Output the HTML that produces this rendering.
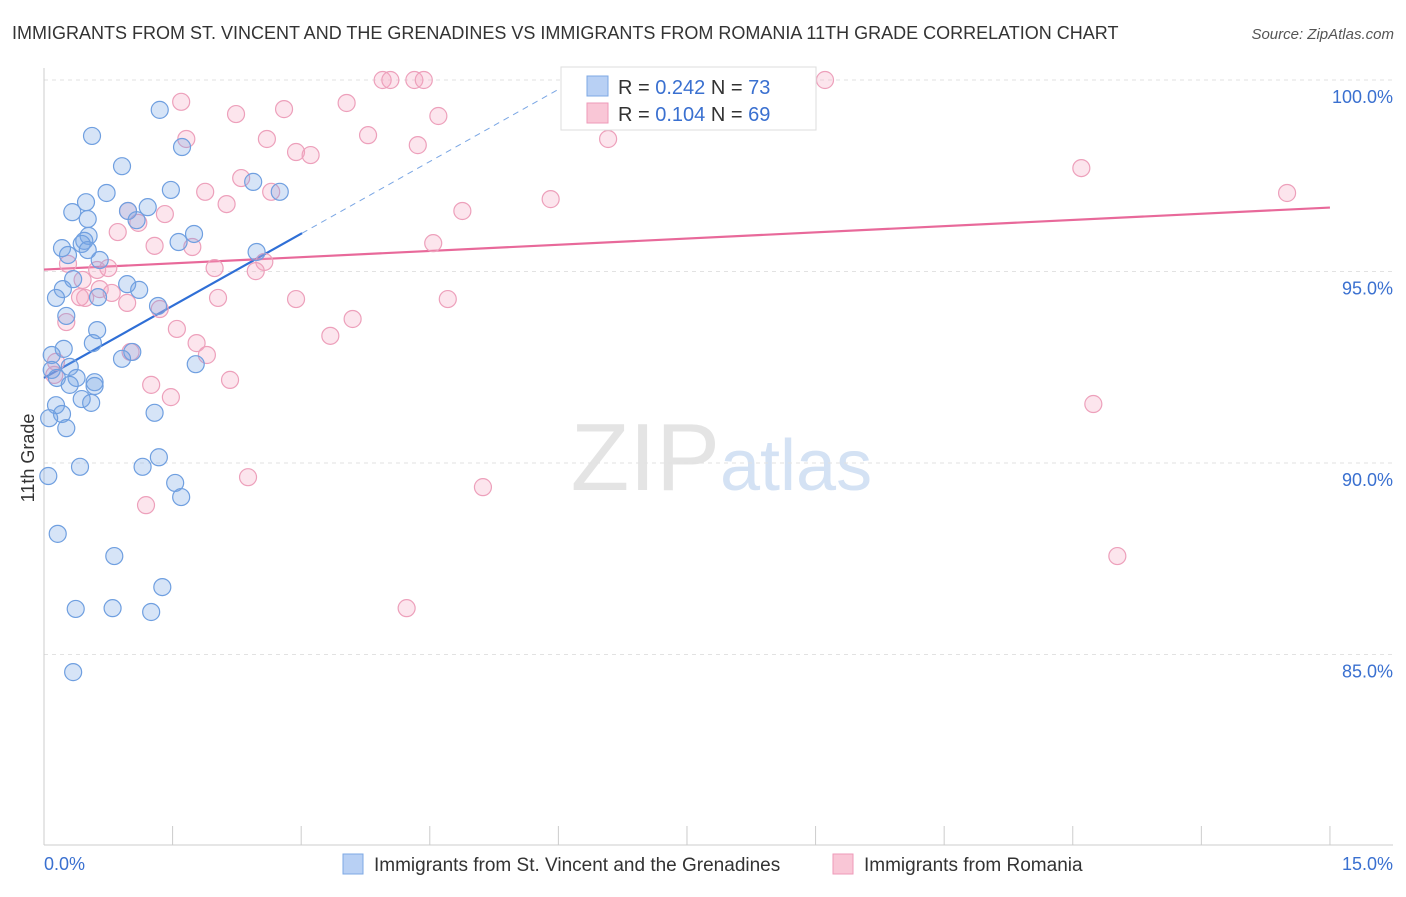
<!DOCTYPE html>
<html><head><meta charset="utf-8"><style>
body{margin:0;background:#fff;font-family:"Liberation Sans",sans-serif;}
svg text{font-family:"Liberation Sans",sans-serif;}
</style></head><body>
<svg id="chart" width="1406" height="892" xmlns="http://www.w3.org/2000/svg">
<text x="12" y="39" font-size="18" fill="#333">IMMIGRANTS FROM ST. VINCENT AND THE GRENADINES VS IMMIGRANTS FROM ROMANIA 11TH GRADE CORRELATION CHART</text>
<text x="1394" y="39" font-size="15" fill="#555" text-anchor="end" font-style="italic">Source: ZipAtlas.com</text>
<text x="720" y="490" font-size="96" fill="#e4e4e4" text-anchor="end" font-family="Liberation Serif">ZIP</text>
<text x="720" y="490" font-size="72" fill="#d4e2f4">atlas</text>
<text transform="translate(34,458) rotate(-90)" font-size="18" fill="#333" text-anchor="middle">11th Grade</text>
<g id="grid"></g><g id="axes"></g><g id="trends"></g><g id="pts"></g>
<g>
<rect x="561" y="67" width="255" height="63" fill="#fff" stroke="#ddd"/>
<rect x="587" y="76" width="21" height="20" fill="#b8d0f4" stroke="#7ea8e4"/>
<rect x="587" y="103" width="21" height="20" fill="#f9c6d6" stroke="#ee9ab8"/>
<text x="618" y="94" font-size="20" fill="#333">R = <tspan fill="#3a70d0">0.242</tspan>   N = <tspan fill="#3a70d0">73</tspan></text>
<text x="618" y="121" font-size="20" fill="#333">R = <tspan fill="#3a70d0">0.104</tspan>   N = <tspan fill="#3a70d0">69</tspan></text>
</g>
<g>
<rect x="343" y="854" width="20" height="20" fill="#b8d0f4" stroke="#7ea8e4"/>
<text x="374" y="871" font-size="19" fill="#333">Immigrants from St. Vincent and the Grenadines</text>
<rect x="833" y="854" width="20" height="20" fill="#f9c6d6" stroke="#ee9ab8"/>
<text x="864" y="871" font-size="19" fill="#333">Immigrants from Romania</text>
</g>
</svg>
<script>
const yTicks=[100,95,90,85];
const yTickLabels=["100.0%","95.0%","90.0%","85.0%"];
const xEndLabels=["0.0%","15.0%"];
const blueX=[1.35,0.56,1.61,0.91,2.44,0.73,1.48,2.75,0.49,0.33,1.21,0.98,1.08,0.51,0.52,0.47,1.75,1.57,0.21,0.44,0.51,2.48,0.28,0.65,0.34,0.22,0.97,1.11,0.14,0.63,1.33,0.26,0.62,0.57,0.23,1.03,0.09,0.91,1.77,0.30,0.09,0.15,0.38,0.59,0.59,0.30,0.44,0.55,0.14,0.21,0.06,1.29,0.26,1.34,0.42,1.15,0.05,1.53,1.60,0.16,0.82,1.38,0.37,0.80,1.25,0.34];
const blueY=[99.22,98.54,98.25,97.75,97.34,97.05,97.13,97.08,96.81,96.55,96.68,96.58,96.34,96.37,95.93,95.80,95.98,95.77,95.61,95.72,95.56,95.51,95.43,95.30,94.80,94.54,94.67,94.52,94.31,94.33,94.10,93.84,93.47,93.13,92.98,92.90,92.82,92.72,92.58,92.51,92.43,92.22,92.22,92.11,92.01,92.04,91.67,91.57,91.51,91.28,91.17,91.31,90.91,90.15,89.90,89.90,89.66,89.48,89.11,88.15,87.57,86.76,86.19,86.21,86.11,84.54];
const pinkX=[6.37,9.11,3.95,4.04,4.32,4.43,1.60,3.53,2.24,2.80,4.60,1.66,2.60,3.78,6.58,4.36,2.94,3.11,12.10,14.50,2.30,2.65,1.88,2.13,5.91,4.88,0.98,1.41,1.10,0.86,4.54,1.29,1.73,2.57,1.99,2.47,0.28,0.62,0.75,0.45,0.65,0.79,0.48,0.42,2.03,2.94,4.71,0.97,1.35,0.26,3.60,1.55,3.34,1.78,1.01,1.90,0.14,0.12,2.17,1.25,1.48,12.24,2.38,5.12,1.19,12.52,4.23];
const pinkY=[100,100,100,100,100,100,99.43,99.40,99.11,99.24,99.06,98.46,98.46,98.56,98.46,98.30,98.12,98.04,97.70,97.05,97.44,97.08,97.08,96.76,96.89,96.58,96.58,96.50,96.27,96.03,95.74,95.67,95.64,95.25,95.09,95.01,95.20,95.04,95.09,94.78,94.54,94.44,94.31,94.33,94.31,94.28,94.28,94.18,94.02,93.68,93.76,93.50,93.32,93.13,92.90,92.82,92.64,92.30,92.17,92.04,91.72,91.54,89.63,89.37,88.90,87.57,86.21];
const blueTrend=[92.22,96.0];const blueTrendX=[0,3.01];const blueDashEndX=6.2;
const pinkTrend=[95.05,96.67];
const NS="http://www.w3.org/2000/svg";
const sx=v=>44+v*85.73, sy=v=>80+(100-v)*38.3;
function mk(tag,attrs,parent){const e=document.createElementNS(NS,tag);for(const k in attrs)e.setAttribute(k,attrs[k]);document.getElementById(parent).appendChild(e);return e;}
yTicks.forEach((t,i)=>{
 const l=mk('line',{x1:44,x2:1393,y1:sy(t),y2:sy(t),stroke:'#e2e2e2','stroke-dasharray':'4,4'},'grid');
 
 
 const tx=mk('text',{x:1393,y:sy(t)+23,'font-size':18,fill:'#3a70d0','text-anchor':'end'},'axes');
 tx.textContent=yTickLabels[i];
 
 
});
const ax=mk('line',{x1:44,x2:1393,y1:845,y2:845,stroke:'#ccc'},'axes');


const ay=mk('line',{x1:44,x2:44,y1:68,y2:845,stroke:'#ccc'},'axes');


for(let i=0;i<=10;i++){const t=mk('line',{x1:sx(i*1.5),x2:sx(i*1.5),y1:826,y2:845,stroke:'#ccc'},'axes');
 
 }
const xl0=mk('text',{x:44,y:870,'font-size':18,fill:'#3a70d0'},'axes');xl0.textContent=xEndLabels[0];


const xl1=mk('text',{x:1393,y:870,'font-size':18,fill:'#3a70d0','text-anchor':'end'},'axes');xl1.textContent=xEndLabels[1];


function drawPts(X,Y,fill,stroke,name){X.forEach((x,i)=>{const c=mk('circle',{cx:sx(x),cy:sy(Y[i]),r:8.5,fill:fill,stroke:stroke,'stroke-width':1.2},'pts');
 
 });}
drawPts(pinkX,pinkY,'rgba(244,170,196,0.3)','#eda0bb','romania-point');
drawPts(blueX,blueY,'rgba(120,165,230,0.3)','#6f9fe0','st-vincent-point');
const slope=(blueTrend[1]-blueTrend[0])/(blueTrendX[1]-blueTrendX[0]);
const bd=mk('line',{x1:sx(blueTrendX[1]),y1:sy(blueTrend[1]),x2:sx(blueDashEndX),y2:sy(blueTrend[0]+slope*blueDashEndX),stroke:'#7aa6e4','stroke-width':1,'stroke-dasharray':'6,5'},'trends');


const bl=mk('line',{x1:sx(blueTrendX[0]),y1:sy(blueTrend[0]),x2:sx(blueTrendX[1]),y2:sy(blueTrend[1]),stroke:'#2f6fd6','stroke-width':2.2},'trends');


const pl=mk('line',{x1:sx(0),y1:sy(pinkTrend[0]),x2:sx(15),y2:sy(pinkTrend[1]),stroke:'#e8699a','stroke-width':2.2},'trends');


</script>
</body></html>
